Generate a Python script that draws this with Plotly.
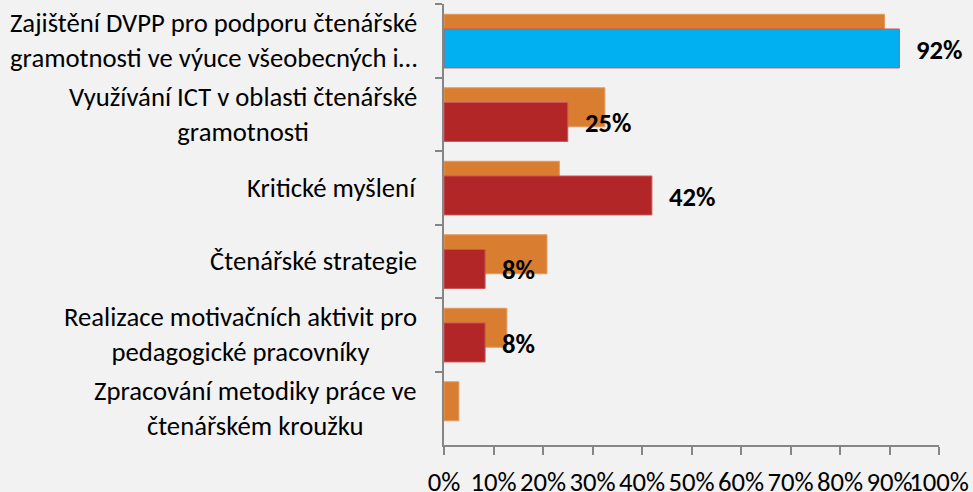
import plotly.graph_objects as go

categories = [
    "Zajištění DVPP pro podporu čtenářské<br>gramotnosti ve výuce všeobecných i…",
    "Využívání ICT v oblasti čtenářské<br>gramotnosti",
    "Kritické myšlení",
    "Čtenářské strategie",
    "Realizace motivačních aktivit pro<br>pedagogické pracovníky",
    "Zpracování metodiky práce ve<br>čtenářském kroužku",
]
series_orange = [0.89, 0.325, 0.233, 0.208, 0.127, 0.03]
series_main = [0.92, 0.25, 0.42, 0.083, 0.083, None]
main_colors = ["#00B0F0", "#B22628", "#B22628", "#B22628", "#B22628", "#B22628"]
main_labels = ["92%", "25%", "42%", "8%", "8%", ""]
x_ticks = [i / 10 for i in range(11)]
x_tick_labels = [f"{i*10}%" for i in range(11)]

FONT = "Calibri, Carlito, Lato, sans-serif"
FS = 26.7

fig = go.Figure()
fig.add_trace(go.Bar(
    y=categories, x=series_orange, orientation="h",
    marker=dict(color="#D97E30", line=dict(color="#E39A5C", width=1)),
    offset=-0.36, width=0.53, hoverinfo="x",
))
fig.add_trace(go.Bar(
    y=categories, x=series_main, orientation="h",
    marker=dict(color=main_colors, line=dict(color="#C9575A", width=1)),
    offset=-0.16, width=0.53, hoverinfo="x",
))

annotations = []
for cat in categories:
    annotations.append(dict(
        x=0, xref="paper", y=cat, yref="y", xanchor="right", yanchor="middle",
        xshift=-25, text=cat, showarrow=False, align="center",
        font=dict(family=FONT, size=FS, color="#000000"),
    ))
for cat, val, lab in zip(categories, series_main, main_labels):
    if val is None or not lab:
        continue
    annotations.append(dict(
        x=val, xref="x", y=cat, yref="y", xanchor="left", yanchor="middle",
        xshift=15, yshift=-9, text=f"<b>{lab}</b>", showarrow=False,
        font=dict(family=FONT, size=FS, color="#000000"),
    ))

fig.update_layout(
    width=973, height=492,
    margin=dict(l=444, r=34, t=4, b=47),
    paper_bgcolor="#F2F2F2", plot_bgcolor="#F2F2F2",
    barmode="overlay", showlegend=False,
    font=dict(family=FONT, size=FS, color="#000000"),
    annotations=annotations,
)
fig.update_xaxes(
    range=[0, 1], tickvals=x_ticks, ticktext=x_tick_labels, automargin=False,
    tickangle=0,
    showgrid=False, zeroline=False, showline=True, linecolor="#868686", linewidth=2,
    ticks="outside", ticklen=8, tickcolor="#868686", tickwidth=2,
    tickfont=dict(family=FONT, size=FS, color="#000000"), ticklabelstandoff=4,
)
fig.update_yaxes(
    autorange="reversed", type="category", tickson="boundaries", automargin=False,
    showticklabels=False, showgrid=False, zeroline=False,
    showline=True, linecolor="#868686", linewidth=2,
    ticks="outside", ticklen=7, tickcolor="#868686", tickwidth=2,
)

fig.write_html("out.html", config={"displayModeBar": False},
               post_script="document.body.style.margin='0';")
